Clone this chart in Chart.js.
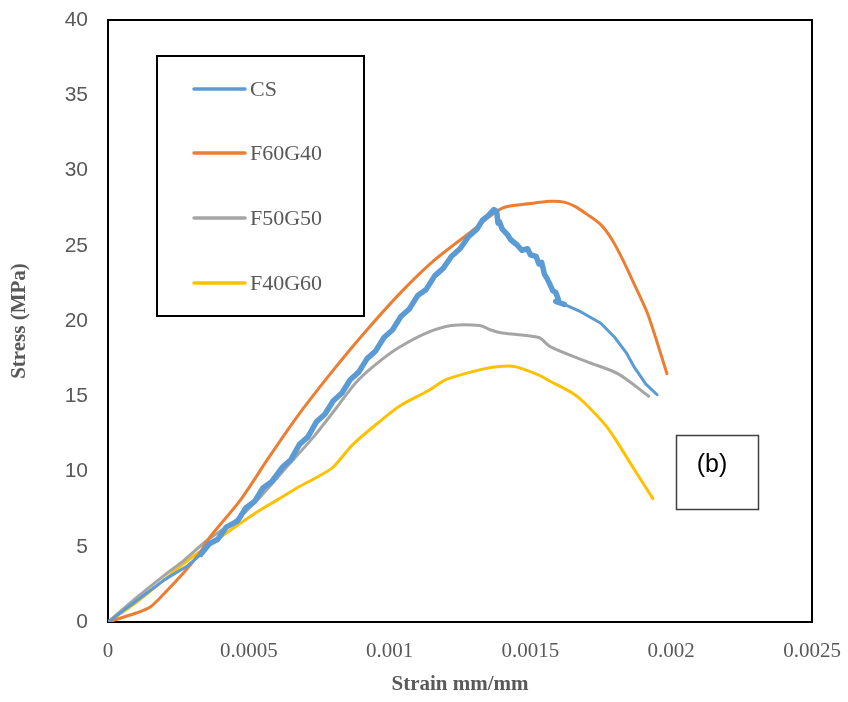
<!DOCTYPE html>
<html>
<head>
<meta charset="utf-8">
<script src="https://cdn.jsdelivr.net/npm/chart.js@4.4.0/dist/chart.umd.min.js"></script>
<style>
  html, body { margin: 0; padding: 0; background: #fff; }
</style>
</head>
<body>
<canvas id="stressChart" width="848" height="702"></canvas>
<script>
// Stress-strain curves
const csStrain = [0, 0.0001, 0.0002, 0.00028, 0.00033, 0.00036, 0.00039, 0.00042, 0.00046, 0.00049,
  0.00052, 0.00055, 0.00058, 0.00062, 0.00065, 0.00068, 0.00071, 0.00074, 0.00077, 0.0008,
  0.00083, 0.00086, 0.00089, 0.00092, 0.00095, 0.00098, 0.00101, 0.00104, 0.00107, 0.0011,
  0.00113, 0.00116, 0.00119, 0.00122, 0.00125, 0.00128, 0.00131, 0.00133, 0.00135, 0.00137,
  0.00138, 0.001385, 0.00139, 0.0014, 0.00142, 0.00143, 0.00145, 0.00147, 0.00149, 0.0015,
  0.00152, 0.00153, 0.00154, 0.00155, 0.00156, 0.00157, 0.00158, 0.00159, 0.0016, 0.00159,
  0.00162, 0.00168, 0.00175, 0.0018, 0.00184, 0.00187, 0.00191, 0.00195];
const csStress = [0, 1.4, 2.8, 3.7, 4.5, 5.2, 5.5, 6.3, 6.7, 7.6,
  8.0, 8.9, 9.3, 10.3, 10.8, 11.8, 12.3, 13.3, 13.8, 14.7,
  15.2, 16.1, 16.6, 17.5, 18.0, 18.9, 19.4, 20.3, 20.8, 21.7,
  22.1, 23.0, 23.5, 24.3, 24.8, 25.6, 26.1, 26.7, 27.0, 27.4,
  27.3, 26.5, 26.6, 26.1, 25.7, 25.4, 25.1, 24.7, 24.8, 24.4,
  24.3, 23.8, 23.9, 23.1, 22.8, 22.4, 22.0, 21.9, 21.4, 21.3,
  21.1, 20.6, 19.85, 18.9, 17.9, 16.9, 15.8, 15.1];

const f60g40Strain = [0, 0.0001, 0.00015, 0.0002, 0.00027, 0.00033, 0.00036, 0.00047, 0.00057, 0.00067,
  0.00079, 0.00091, 0.00104, 0.00115, 0.00128, 0.0014, 0.0015, 0.00157, 0.00162, 0.00166,
  0.0017, 0.00175, 0.00179, 0.00183, 0.00186, 0.00189, 0.00192, 0.001985];
const f60g40Stress = [0, 0.6, 1.0, 1.9, 3.3, 4.7, 5.6, 8.1, 10.9, 13.6,
  16.5, 19.2, 21.9, 23.9, 25.8, 27.5, 27.8, 27.95, 27.9, 27.6,
  27.1, 26.4, 25.4, 24.0, 22.8, 21.6, 20.3, 16.5];

const f50g50Strain = [0, 0.0001, 0.0002, 0.00027, 0.00035, 0.00045, 0.00053, 0.00063, 0.00073, 0.00081,
  0.00088, 0.00095, 0.00103, 0.00113, 0.00122, 0.00132, 0.00136, 0.0014, 0.00153, 0.00157,
  0.0017, 0.00181, 0.00192];
const f50g50Stress = [0, 1.6, 3.1, 4.1, 5.4, 6.7, 8.1, 10.2, 12.3, 14.2,
  15.9, 17.1, 18.2, 19.2, 19.7, 19.7, 19.4, 19.2, 18.9, 18.3,
  17.3, 16.5, 15.0];

const f40g60Strain = [0, 0.0001, 0.0002, 0.00027, 0.00035, 0.00045, 0.00052, 0.0006, 0.00068, 0.00075,
  0.0008, 0.00087, 0.00097, 0.00104, 0.00114, 0.0012, 0.00133, 0.0014, 0.00145, 0.00153,
  0.00157, 0.00165, 0.00169, 0.00177, 0.00181, 0.00187, 0.001935];
const f40g60Stress = [0, 1.3, 2.8, 3.9, 5.0, 6.3, 7.2, 8.1, 9.0, 9.7,
  10.3, 11.8, 13.4, 14.4, 15.4, 16.1, 16.8, 17.0, 16.95, 16.4,
  16.0, 15.2, 14.6, 13.0, 11.9, 10.1, 8.2];

const seriesNames = ['CS', 'F60G40', 'F50G50', 'F40G60'];
const seriesColors = ['#5B9BD5', '#ED7D31', '#A5A5A5', '#FFC000'];
const xTickLabels = ['0', '0.0005', '0.001', '0.0015', '0.002', '0.0025'];

const toPoints = (xs, ys) => xs.map((x, i) => ({ x: x, y: ys[i] }));

const textGray = '#595959';

// the CS record is noisy between these indices, drawn as a thicker band
const csNoisyStart = 4;
const csNoisyEnd = csStrain.indexOf(0.00162);

// Black frame around the plot area
const frameBox = {
  id: 'frameBox',
  beforeDatasetsDraw(chart) {
    const { ctx, chartArea: a } = chart;
    ctx.save();
    ctx.strokeStyle = '#000';
    ctx.lineWidth = 2;
    ctx.strokeRect(a.left, a.top, a.right - a.left, a.bottom - a.top);
    ctx.restore();
  }
};

// Boxed legend in the upper left and the "(b)" label box
const boxedLegend = {
  id: 'boxedLegend',
  afterDraw(chart) {
    const ctx = chart.ctx;
    ctx.save();
    ctx.fillStyle = '#fff';
    ctx.fillRect(157, 56, 207, 260);
    ctx.strokeStyle = '#000';
    ctx.lineWidth = 2;
    ctx.strokeRect(157, 56, 207, 260);

    const rowY = [89, 153, 218, 283];
    chart.data.datasets.forEach((ds, i) => {
      ctx.strokeStyle = ds.borderColor;
      ctx.lineWidth = 3.5;
      ctx.lineCap = 'round';
      ctx.beginPath();
      ctx.moveTo(194, rowY[i]);
      ctx.lineTo(245, rowY[i]);
      ctx.stroke();
      ctx.fillStyle = textGray;
      ctx.font = '22px "Liberation Serif"';
      ctx.textBaseline = 'middle';
      ctx.textAlign = 'left';
      ctx.fillText(ds.label, 250, rowY[i] + 1);
    });

    ctx.strokeStyle = '#404040';
    ctx.lineWidth = 1.5;
    ctx.strokeRect(676.5, 435.5, 82, 74);
    ctx.fillStyle = '#000';
    ctx.font = '25px "Liberation Sans"';
    ctx.textAlign = 'center';
    ctx.textBaseline = 'middle';
    ctx.fillText('(b)', 712, 465);
    ctx.restore();
  }
};

const datasets = [
  toPoints(csStrain, csStress),
  toPoints(f60g40Strain, f60g40Stress),
  toPoints(f50g50Strain, f50g50Stress),
  toPoints(f40g60Strain, f40g60Stress)
].map((pts, i) => ({
  label: seriesNames[i],
  data: pts,
  borderColor: seriesColors[i],
  backgroundColor: seriesColors[i],
  borderWidth: 3,
  pointRadius: 0,
  showLine: true,
  tension: i === 0 ? 0 : 0.3,
  borderCapStyle: 'round',
  borderJoinStyle: 'round',
  segment: i === 0 ? {
    borderWidth: ctx => (ctx.p0DataIndex >= csNoisyStart && ctx.p0DataIndex < csNoisyEnd) ? 5.5 : 3
  } : undefined
}));

const chart = new Chart(document.getElementById('stressChart'), {
  type: 'scatter',
  data: { datasets: datasets },
  options: {
    responsive: false,
    animation: false,
    layout: { padding: { top: 20, right: 36, left: 0, bottom: 0 } },
    plugins: {
      legend: { display: false },
      tooltip: { enabled: false }
    },
    scales: {
      x: {
        type: 'linear',
        min: 0,
        max: 0.0025,
        grid: { display: false, drawTicks: false },
        border: { display: false },
        ticks: {
          stepSize: 0.0005,
          autoSkip: false,
          maxRotation: 0,
          padding: 17,
          color: textGray,
          font: { family: 'Liberation Serif', size: 21 },
          callback: (v, i) => xTickLabels[i]
        },
        title: {
          display: true,
          text: 'Strain mm/mm',
          color: textGray,
          font: { family: 'Liberation Serif', size: 21, weight: 'bold' },
          padding: { top: 0, bottom: 5 }
        },
        afterFit(scale) {
          scale.height = 80;
          scale.paddingLeft = 0;
          scale.paddingRight = 0;
        }
      },
      y: {
        min: 0,
        max: 40,
        grid: { display: false, drawTicks: false },
        border: { display: false },
        ticks: {
          stepSize: 5,
          padding: 20,
          color: textGray,
          font: { family: 'Liberation Sans', size: 21 }
        },
        title: {
          display: true,
          text: 'Stress (MPa)',
          color: textGray,
          font: { family: 'Liberation Serif', size: 21, weight: 'bold' },
          padding: { top: 7, bottom: 0 }
        },
        afterFit(scale) {
          scale.width = 108;
          scale.paddingTop = 0;
          scale.paddingBottom = 0;
        }
      }
    }
  },
  plugins: [frameBox, boxedLegend]
});
</script>
</body>
</html>
